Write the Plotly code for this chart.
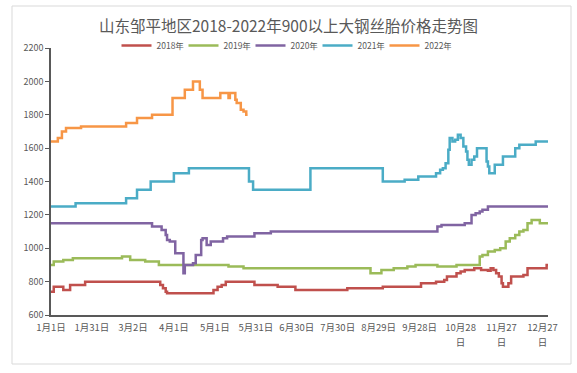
import plotly.graph_objects as go

# ---- data (day index: 0 = 1月1日), step change points ----
days_2018 = [0, 2, 9, 14, 25, 80, 82, 84, 85, 119, 122, 125, 128, 149, 166, 179, 217, 243, 271, 282,
             288, 290, 297, 300, 303, 310, 315, 320, 322, 324, 326, 328, 330, 331, 335, 337, 346, 349, 363, 364]
vals_2018 = [740, 770, 750, 780, 800, 780, 760, 740, 730, 750, 770, 780, 800, 780, 770, 750, 760, 770, 790, 800,
             810, 830, 850, 860, 870, 880, 870, 865, 880, 870, 850, 830, 790, 770, 790, 830, 840, 880, 900, 900]

days_2019 = [0, 2, 9, 16, 52, 58, 69, 79, 130, 141, 234, 242, 251, 261, 267, 283, 297, 314, 316, 320,
             325, 329, 333, 336, 340, 343, 346, 349, 352, 358, 364]
vals_2019 = [900, 920, 930, 940, 950, 930, 920, 900, 890, 880, 850, 870, 880, 890, 900, 890, 900, 950, 960, 980,
             990, 1000, 1040, 1060, 1080, 1100, 1110, 1150, 1170, 1150, 1150]

days_2020 = [0, 74, 81, 84, 85, 87, 91, 97, 98, 104, 106, 110, 111, 114, 117, 126, 129, 149, 161,
             283, 286, 303, 308, 311, 314, 316, 320, 364]
vals_2020 = [1150, 1130, 1110, 1080, 1050, 1040, 970, 850, 900, 910, 960, 1050, 1060, 1020, 1040, 1060, 1070, 1090, 1100,
             1130, 1140, 1150, 1200, 1210, 1220, 1230, 1250, 1250]

days_2021 = [0, 18, 55, 63, 73, 90, 101, 145, 148, 190, 243, 259, 269, 282, 285, 287, 289, 291, 292, 294,
             296, 298, 300, 302, 304, 305, 306, 308, 310, 312, 317, 319, 320, 321, 325, 331, 340, 343, 355, 364]
vals_2021 = [1250, 1270, 1300, 1350, 1400, 1450, 1480, 1400, 1350, 1480, 1400, 1410, 1430, 1450, 1470, 1480, 1510, 1590, 1660, 1640,
             1650, 1680, 1660, 1610, 1580, 1530, 1500, 1530, 1550, 1600, 1600, 1520, 1490, 1450, 1500, 1550, 1600, 1620, 1640, 1640]

days_2022 = [0, 5, 8, 11, 22, 55, 63, 74, 89, 98, 104, 109, 111, 124, 130, 131, 135, 136, 139, 141, 143, 144]
vals_2022 = [1640, 1660, 1700, 1720, 1730, 1750, 1780, 1800, 1900, 1950, 2000, 1950, 1900, 1930, 1900, 1930,
             1890, 1870, 1830, 1820, 1800, 1800]

series_names = ["2018年", "2019年", "2020年", "2021年", "2022年"]
tick_days = [0, 30, 60, 90, 120, 150, 180, 210, 240, 270, 300, 330, 360]
tick_labels = ["1月1日", "1月31日", "3月2日", "4月1日", "5月1日", "5月31日", "6月30日", "7月30日",
               "8月29日", "9月28日", "10月28", "11月27", "12月27"]
# wrapped second line of the last three date labels
wrap_days = [300, 330, 360]
wrap_labels = ["日", "日", "日"]
title_text = "山东邹平地区2018-2022年900以上大钢丝胎价格走势图"

colors = ["#C0504D", "#9BBB59", "#8064A2", "#4BACC6", "#F79646"]
FONT = "Noto Sans CJK SC"
GRAY = "#595959"

fig = go.Figure()
all_series = [(days_2018, vals_2018), (days_2019, vals_2019), (days_2020, vals_2020),
              (days_2021, vals_2021), (days_2022, vals_2022)]
for (d, v), name, c in zip(all_series, series_names, colors):
    fig.add_trace(go.Scatter(x=d, y=v, name=name, mode="lines",
                             line=dict(color=c, width=2.5, shape="hv")))
# empty helper trace so the wrapped-label axis is drawn
fig.add_trace(go.Scatter(x=wrap_days, y=[None] * len(wrap_days), xaxis="x2", mode="lines",
                         showlegend=False, hoverinfo="skip"))

W, H = 577, 373
L, R, T, B = 51, 29, 48, 58
pw, ph = W - L - R, H - T - B

def px_x(p):
    return (p - L) / pw

def px_y(p):
    return (H - B - p) / ph

fig.update_layout(
    width=W, height=H,
    margin=dict(l=L, r=R, t=T, b=B, autoexpand=False),
    paper_bgcolor="white", plot_bgcolor="white",
    font=dict(family=FONT, color=GRAY, size=9),
    title=dict(text=title_text, x=0.5, xanchor="center", y=1 - 27 / H, yanchor="middle",
               yref="container", font=dict(size=15.5, color=GRAY, family=FONT)),
    legend=dict(orientation="h", xref="container", x=284 / W, xanchor="center",
                yref="container", y=1 - 45.5 / H, yanchor="middle",
                font=dict(size=8.5, color=GRAY), itemwidth=30, tracegroupgap=0,
                entrywidth=22, entrywidthmode="pixels",
                bgcolor="rgba(0,0,0,0)"),
    showlegend=True,
    shapes=[dict(type="rect", xref="paper", yref="paper",
                 x0=px_x(12), x1=px_x(571), y0=px_y(364), y1=px_y(6),
                 line=dict(color="#D9D9D9", width=1), fillcolor="rgba(0,0,0,0)", layer="below")],
    xaxis=dict(range=[0, 364], tickmode="array", tickvals=tick_days, ticktext=tick_labels,
               showgrid=False, zeroline=False, showline=True, linecolor=GRAY, linewidth=1.5,
               ticks="", ticklabelstandoff=3, automargin=False,
               tickfont=dict(size=9.5, color=GRAY, family=FONT)),
    xaxis2=dict(overlaying="x", anchor="y", side="bottom", range=[0, 364],
                tickmode="array", tickvals=wrap_days, ticktext=wrap_labels,
                showgrid=False, zeroline=False, showline=False, ticks="",
                ticklabelstandoff=20, automargin=False,
                tickfont=dict(size=9.5, color=GRAY, family=FONT)),
    yaxis=dict(range=[600, 2200], dtick=200, tick0=600, showgrid=False, zeroline=False,
               showline=True, linecolor=GRAY, linewidth=1.5, ticks="outside", ticklen=4,
               automargin=False, tickcolor=GRAY, tickwidth=1,
               tickfont=dict(size=9, color=GRAY, family=FONT)),
)

fig.write_html("out.html", config={"displayModeBar": False},
               post_script="document.body.style.margin='0';document.body.style.overflow='hidden';")
